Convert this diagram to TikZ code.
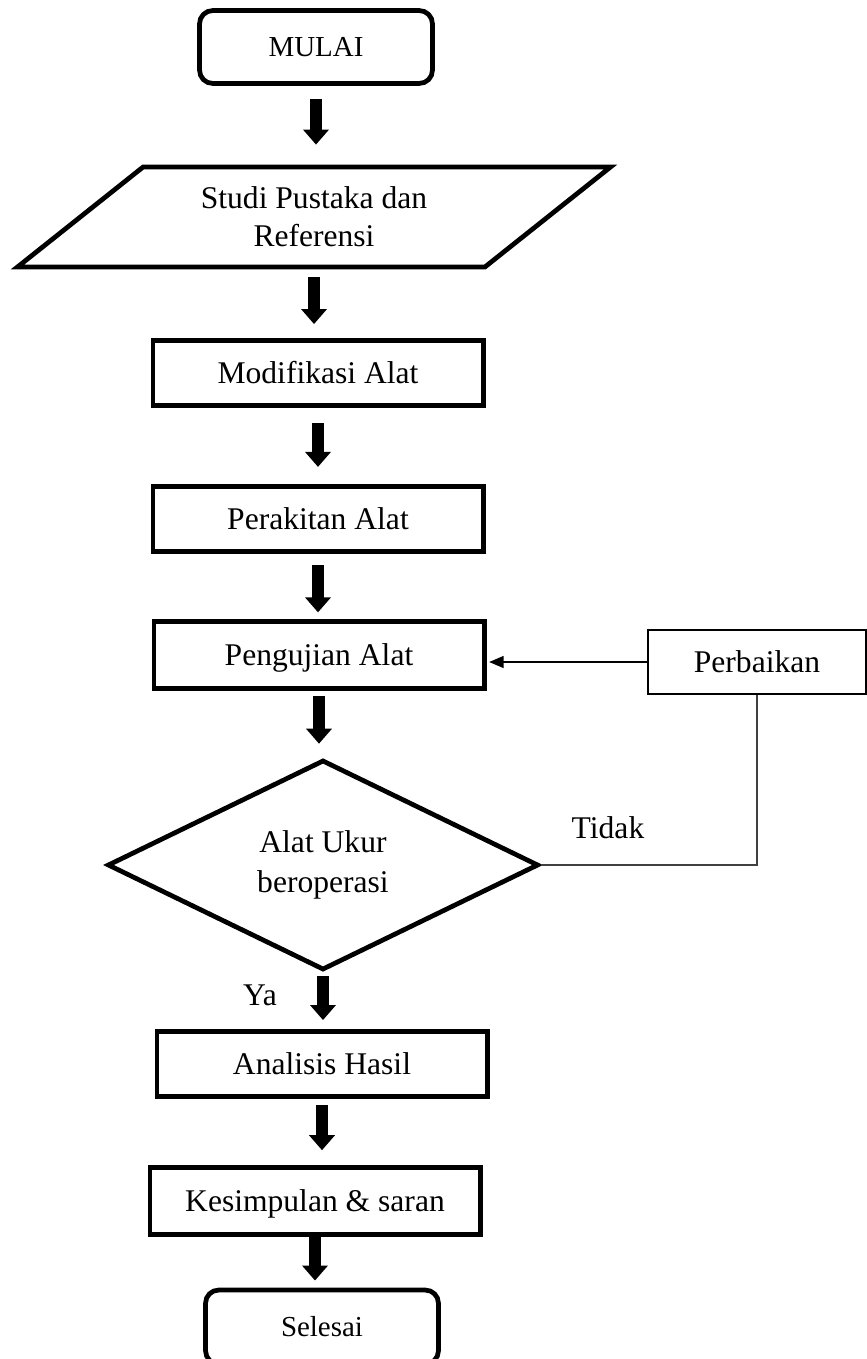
\documentclass[tikz,border=0pt]{standalone}
\usepackage{fontspec}
\setmainfont{Liberation Serif}
\usetikzlibrary{shapes.geometric,arrows.meta,positioning}

\tikzset{
  startstop/.style={draw, line width=1.8pt, rounded corners=5pt,
    minimum width=88.5pt, minimum height=27.7pt, text height=8.5pt, text depth=1.3pt,
    font=\fontsize{11}{13}\selectfont},
  iobox/.style={draw, line width=1.8pt, trapezium, trapezium left angle=41,
    trapezium right angle=139, trapezium stretches=true,
    minimum width=225.7pt, minimum height=38pt, align=center,
    font=\fontsize{12}{14.5}\selectfont},
  process/.style={draw, line width=1.8pt, minimum width=125.5pt,
    minimum height=24.8pt, text height=9pt, text depth=1.1pt,
    font=\fontsize{12}{14.5}\selectfont},
  fixbox/.style={draw, line width=0.7pt, minimum width=82.8pt,
    minimum height=24.3pt, text height=9pt, text depth=1.1pt,
    font=\fontsize{12}{14.5}\selectfont},
  decision/.style={draw, diamond, line width=1.8pt, shape aspect=2, inner sep=0pt,
    minimum width=163.8pt, minimum height=79.8pt, align=center,
    font=\fontsize{12}{15}\selectfont},
  flow/.style={-{Triangle[width=9.5pt,length=5.7pt]}, line width=4.5pt},
  thinline/.style={line width=0.6pt, draw=black!75},
  lbl/.style={font=\fontsize{12}{14}\selectfont}
}

\begin{document}
\begin{tikzpicture}[x=0.38pt,y=-0.38pt]
  \useasboundingbox (0,0) rectangle (867,1359);
  % Main column of steps
  \node[startstop] (mulai) at (316,47) {MULAI};
  \node[iobox] (studi) at (314,217) {Studi Pustaka dan\\Referensi};
  \node[process] (modif) at (318,373) {Modifikasi Alat};
  \node[process] (rakit) at (318,519) {Perakitan Alat};
  \node[process, minimum height=25.2pt] (uji) at (319,655) {Pengujian Alat};
  \node[decision] (cek) at (323,865) {Alat Ukur\\beroperasi};
  \node[process] (analisis) at (322,1064) {Analisis Hasil};
  \node[process, minimum height=25.4pt] (simpul) at (315,1201) {Kesimpulan \& saran};
  \node[startstop, minimum height=28.1pt] (selesai) at (322,1327) {Selesai};
  % Side box
  \node[fixbox] (perbaikan) at (757,662) {Perbaikan};
  % Block arrows down the column
  \draw[flow, shorten <=5pt, shorten >=7.6pt] (mulai.south) -- (mulai.south |- studi.north);
  \draw[flow, shorten <=3pt, shorten >=5.3pt] (studi.south) -- (studi.south |- modif.north);
  \draw[flow, shorten <=5.7pt, shorten >=6.5pt] (modif.south) -- (modif.south |- rakit.north);
  \draw[flow, shorten <=4.2pt, shorten >=2.7pt] (rakit.south) -- (rakit.south |- uji.north);
  \draw[flow, shorten <=1.9pt, shorten >=5.3pt] (uji.south) -- (uji.south |- cek.north);
  \draw[flow, shorten <=1.5pt, shorten >=3.4pt] (cek.south) -- (cek.south |- analisis.north);
  \draw[flow, shorten <=2.3pt, shorten >=5.7pt] (analisis.south) -- (analisis.south |- simpul.north);
  \draw[flow, shorten >=2.7pt] (simpul.south) -- (simpul.south |- selesai.north);
  % Loop back through Perbaikan
  \draw[thinline] (cek.east) -| (perbaikan.south);
  \draw[line width=0.6pt, -{Triangle[width=4.5pt,length=5.5pt]}, shorten >=1pt]
    (perbaikan.west) -- (perbaikan.west -| uji.east);
  % Branch labels
  \node[lbl] (tidak) at (608,828) {Tidak};
  \node[lbl] (ya) at (260,995) {Ya};
\end{tikzpicture}
\end{document}
